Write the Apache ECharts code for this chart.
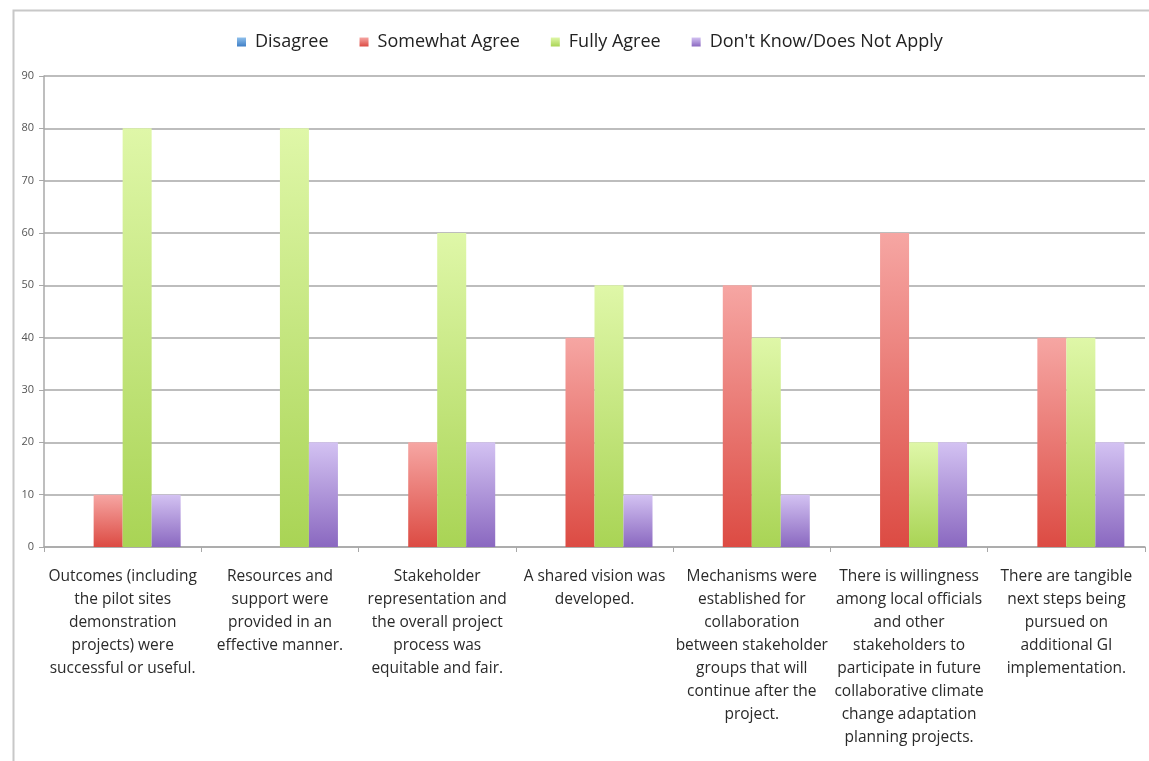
<!DOCTYPE html>
<html>
<head>
<meta charset="utf-8">
<script src="https://cdn.jsdelivr.net/npm/echarts@6/dist/echarts.min.js"></script>
<style>
  html, body { margin: 0; padding: 0; background: #fff; }
  #chart { width: 1149px; height: 761px; }
</style>
</head>
<body>
<div id="chart"></div>
<script>
// Survey statements (wrapped as they appear under the axis)
const categories = [
  'Outcomes (including\nthe pilot sites\ndemonstration\nprojects) were\nsuccessful or useful.',
  'Resources and\nsupport were\nprovided in an\neffective manner.',
  'Stakeholder\nrepresentation and\nthe overall project\nprocess was\nequitable and fair.',
  'A shared vision was\ndeveloped.',
  'Mechanisms were\nestablished for\ncollaboration\nbetween stakeholder\ngroups that will\ncontinue after the\nproject.',
  'There is willingness\namong local officials\nand other\nstakeholders to\nparticipate in future\ncollaborative climate\nchange adaptation\nplanning projects.',
  'There are tangible\nnext steps being\npursued on\nadditional GI\nimplementation.'
];

const seriesNames = ['Disagree', 'Somewhat Agree', 'Fully Agree', "Don't Know/Does Not Apply"];

const disagree      = [0, 0, 0, 0, 0, 0, 0];
const somewhatAgree = [10, 0, 20, 40, 50, 60, 40];
const fullyAgree    = [80, 80, 60, 50, 40, 20, 40];
const dontKnow      = [10, 20, 20, 10, 10, 20, 20];

const yTicks = { min: 0, max: 90, interval: 10 };

// top/bottom colours of each series' vertical gradient
const palette = [
  ['#8fc0ec', '#3f7fc6'],
  ['#f6a6a3', '#dc4b43'],
  ['#dff7a8', '#a9d455'],
  ['#d3c2f2', '#8a68c0']
];

function grad(pair) {
  return new echarts.graphic.LinearGradient(0, 0, 0, 1, [
    { offset: 0, color: pair[0] },
    { offset: 1, color: pair[1] }
  ]);
}

const values = [disagree, somewhatAgree, fullyAgree, dontKnow];

const chart = echarts.init(document.getElementById('chart'), null, { renderer: 'canvas' });

chart.setOption({
  animation: false,
  backgroundColor: '#fff',
  textStyle: { fontFamily: 'Open Sans, Liberation Sans, sans-serif' },
  graphic: [{
    type: 'rect',
    left: 11, top: 8,
    shape: { width: 1160, height: 780 },
    style: { fill: 'none', stroke: '#c8c8c8', lineWidth: 2 },
    silent: true,
    z: -1
  }],
  legend: {
    top: 28,
    left: 232,
    itemWidth: 9,
    itemHeight: 9,
    itemGap: 31,
    icon: 'rect',
    textStyle: {
      fontSize: 18, color: '#222',
      padding: [0, 0, 0, 4],
      fontFamily: 'Open Sans, Liberation Sans, sans-serif'
    },
    data: seriesNames
  },
  grid: { left: 44, right: 4, top: 76, bottom: 214, containLabel: false },
  xAxis: {
    type: 'category',
    data: categories,
    axisLine: { lineStyle: { color: '#a8a8a8', width: 1.5 } },
    axisTick: { show: true, length: 5, lineStyle: { color: '#a8a8a8' } },
    axisLabel: {
      interval: 0,
      margin: 18,
      fontSize: 15.5,
      lineHeight: 23,
      color: '#2a2a2a',
      align: 'center'
    }
  },
  yAxis: {
    type: 'value',
    min: yTicks.min,
    max: yTicks.max,
    interval: yTicks.interval,
    axisLine: { show: true, lineStyle: { color: '#a8a8a8', width: 1.5 } },
    axisTick: { show: true, length: 5, lineStyle: { color: '#a8a8a8' } },
    axisLabel: { fontSize: 11, color: '#555', margin: 10 },
    splitLine: { lineStyle: { color: '#bdbdbd', width: 2 } }
  },
  series: seriesNames.map((name, i) => ({
    name: name,
    type: 'bar',
    data: values[i],
    barWidth: 29,
    barGap: '0%',
    itemStyle: { color: grad(palette[i]) }
  }))
});
</script>
</body>
</html>
